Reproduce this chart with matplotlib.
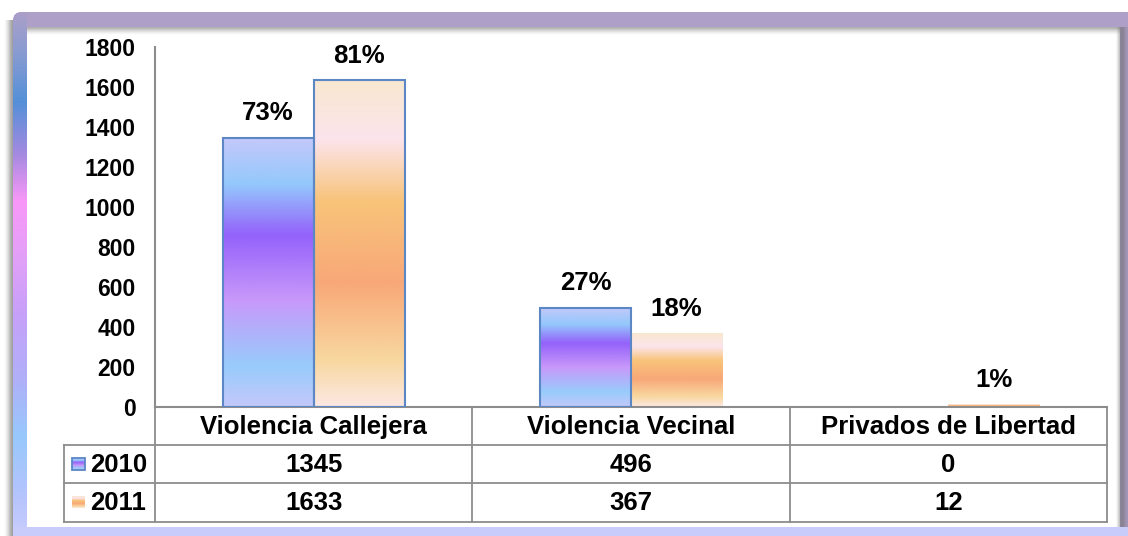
import numpy as np
import matplotlib
matplotlib.use("Agg")
import matplotlib.pyplot as plt
from matplotlib.colors import LinearSegmentedColormap, to_rgba
from matplotlib.patches import Rectangle, FancyBboxPatch

# ---------------- data ----------------
categories = ["Violencia Callejera", "Violencia Vecinal", "Privados de Libertad"]
series_names = ["2010", "2011"]
values_2010 = [1345, 496, 0]
values_2011 = [1633, 367, 12]
pct_2010 = ["73%", "27%", ""]
pct_2011 = ["81%", "18%", "1%"]
y_ticks = [0, 200, 400, 600, 800, 1000, 1200, 1400, 1600, 1800]

# ---------------- styles ----------------
FONT = "Liberation Sans"
plt.rcParams["font.family"] = [FONT, "DejaVu Sans"]
cmap_2010 = LinearSegmentedColormap.from_list("c2010", [
    (0.00, "#c4c8fa"), (0.17, "#94c8fc"), (0.36, "#9462fa"),
    (0.60, "#c898fa"), (0.85, "#98ccfc"), (1.00, "#c4c8fa")])
cmap_2011 = LinearSegmentedColormap.from_list("c2011", [
    (0.00, "#f8e8d0"), (0.18, "#fce4ec"), (0.37, "#f8c47a"),
    (0.62, "#f8a878"), (0.86, "#f8d8a0"), (1.00, "#fce8e4")])
edge_2010 = [True, True, True]
edge_2011 = [True, False, False]
EDGE = "#5b87c5"
GRID = "#8c8c8c"

W, H = 1128, 536
fig = plt.figure(figsize=(W / 100, H / 100), dpi=100)
fig.patch.set_facecolor("white")

# ---------------- background frame (pixel coords) ----------------
bg = fig.add_axes([0, 0, 1, 1])
bg.set_xlim(0, W)
bg.set_ylim(H, 0)
bg.axis("off")

def hgrad(x0, x1, y0, y1, alphas, color=(0.45, 0.45, 0.45), z=1):
    a = np.zeros((1, len(alphas), 4))
    a[0, :, :3] = color
    a[0, :, 3] = alphas
    bg.imshow(a, extent=(x0, x1, y1, y0), aspect="auto", zorder=z, interpolation="bilinear")

def vgrad(x0, x1, y0, y1, alphas, color=(0.45, 0.45, 0.45), z=1):
    a = np.zeros((len(alphas), 1, 4))
    a[:, 0, :3] = color
    a[:, 0, 3] = alphas
    bg.imshow(a, extent=(x0, x1, y1, y0), aspect="auto", zorder=z, interpolation="bilinear")

# outer left shadow
hgrad(3, 14, 20, H, [0.0, 0.1, 0.3, 0.55, 0.7])

frame = FancyBboxPatch((13, 12), W + 20, H + 20,
                       boxstyle="round,pad=0,rounding_size=9",
                       facecolor="#ae9fc9", edgecolor="none", zorder=2)
bg.add_patch(frame)
left_cols = LinearSegmentedColormap.from_list("frame", [
    (0.00, "#ab9fc9"), (0.07, "#8c9cd0"), (0.17, "#5590d8"), (0.27, "#a48ae0"),
    (0.36, "#f898f8"), (0.46, "#e4a0f8"), (0.57, "#c8a0f8"), (0.70, "#b0b0f8"),
    (0.81, "#98c8fc"), (0.92, "#b4c4fc"), (1.00, "#c8ccfc")])
grad = np.linspace(0, 1, 256).reshape(-1, 1)
im = bg.imshow(grad, cmap=left_cols, extent=(13, 27, H, 12), aspect="auto", zorder=3)
im.set_clip_path(frame)
bg.add_patch(Rectangle((13, 527), W, 20, facecolor="#c8ccfa", edgecolor="none", zorder=3))
bg.add_patch(Rectangle((27, 27), 1093, 500, facecolor="white", edgecolor="none", zorder=4))
# inner shadows
vgrad(27, 1120, 27, 36, [0.55, 0.3, 0.12, 0.0], z=5)
hgrad(1115, W, 27, 527, [0.0, 0.25, 0.55, 0.65, 0.4, 0.2], z=5)
bg.set_xlim(0, W)
bg.set_ylim(H, 0)

# ---------------- main axes ----------------
left_px, right_px, top_px, bot_px = 155, 1107, 47, 407
ax = fig.add_axes([left_px / W, 1 - bot_px / H, (right_px - left_px) / W, (bot_px - top_px) / H])
ax.patch.set_visible(False)
x = np.arange(len(categories))
bw = 0.287

def draw_series(xpos, vals, cmap, edges, labels):
    bars = ax.bar(xpos, vals, bw, facecolor="none", edgecolor="none", zorder=3)
    for b, has_edge, lab in zip(bars, edges, labels):
        h = b.get_height()
        x0 = b.get_x()
        if h > 0:
            ax.imshow(grad, cmap=cmap, extent=(x0, x0 + b.get_width(), 0, h),
                      aspect="auto", zorder=2, origin="upper")
            if has_edge:
                b.set_edgecolor(EDGE)
                b.set_linewidth(1.5)
        if lab:
            ax.annotate(lab, (x0 + b.get_width() / 2, h), xytext=(0, 9),
                        textcoords="offset points", ha="center", va="bottom",
                        fontsize=18.5, fontweight="bold", color="black")
    return bars

draw_series(x - bw / 2, values_2010, cmap_2010, edge_2010, pct_2010)
draw_series(x + bw / 2, values_2011, cmap_2011, edge_2011, pct_2011)

ax.set_xlim(-0.5, len(categories) - 0.5)
ax.set_ylim(0, 1800)
ax.set_yticks(y_ticks)
ax.set_yticklabels([str(t) for t in y_ticks], fontsize=16.5, fontweight="bold")
ax.tick_params(axis="y", length=0, pad=14)
ax.set_xticks([])
for s in ("top", "right"):
    ax.spines[s].set_visible(False)
for s in ("left", "bottom"):
    ax.spines[s].set_color(GRID)
    ax.spines[s].set_linewidth(1.5)

# ---------------- data table (pixel coords on bg) ----------------
def data_to_px(xd):
    return ax.transData.transform((xd, 0))[0]

col_edges = [data_to_px(v) for v in np.arange(len(categories) + 1) - 0.5]
row_y = [407, 445, 483, 522]
label_left = 64
for y in row_y[1:]:
    bg.plot([label_left, col_edges[-1]], [y, y], color=GRID, lw=1.3, zorder=6)
for cx in col_edges:
    bg.plot([cx, cx], [row_y[0], row_y[-1]], color=GRID, lw=1.3, zorder=6)
bg.plot([label_left, label_left], [row_y[1], row_y[-1]], color=GRID, lw=1.3, zorder=6)

for i, cat in enumerate(categories):
    cx = (col_edges[i] + col_edges[i + 1]) / 2
    bg.text(cx, (row_y[0] + row_y[1]) / 2 + 1, cat, ha="center", va="center",
            fontsize=18.5, fontweight="bold", zorder=7)
    for r, vals in enumerate([values_2010, values_2011]):
        bg.text(cx, (row_y[r + 1] + row_y[r + 2]) / 2 + 1, str(vals[i]), ha="center",
                va="center", fontsize=18.5, fontweight="bold", zorder=7)

for r, (name, cmap, edge) in enumerate(zip(series_names, [cmap_2010, cmap_2011],
                                           [edge_2010[0], edge_2011[1]])):
    yc = (row_y[r + 1] + row_y[r + 2]) / 2
    sw = bg.imshow(grad, cmap=cmap, extent=(72, 85, yc + 6, yc - 6), aspect="auto", zorder=7)
    if edge:
        bg.add_patch(Rectangle((72, yc - 6), 13, 12, facecolor="none", edgecolor=EDGE,
                               lw=1.3, zorder=8))
    bg.text(90, yc + 1, name, ha="left", va="center", fontsize=18.5,
            fontweight="bold", zorder=7)

bg.set_xlim(0, W)
bg.set_ylim(H, 0)

fig.savefig("out.png", dpi=100)
